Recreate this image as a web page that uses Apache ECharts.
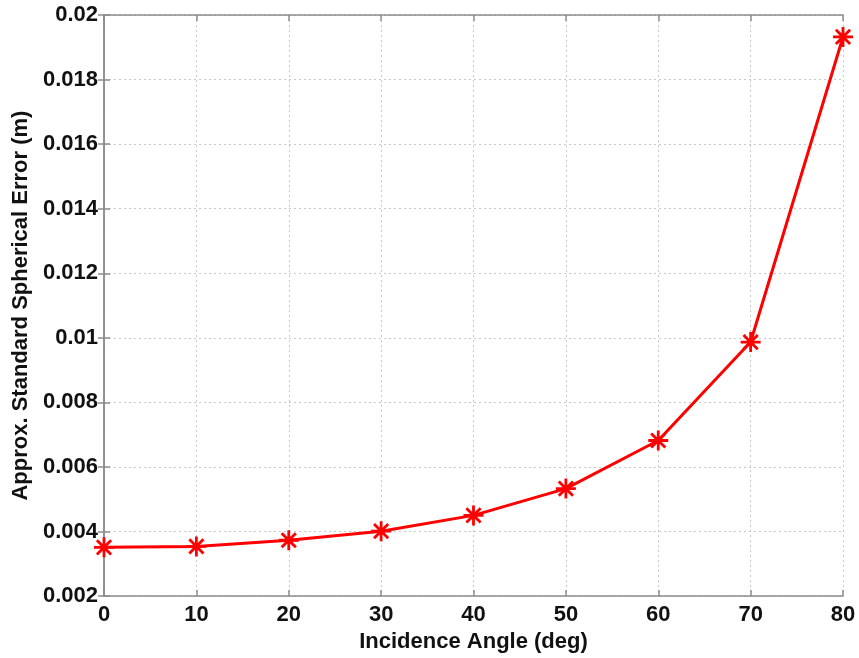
<!DOCTYPE html>
<html><head><meta charset="utf-8">
<script src="https://cdn.jsdelivr.net/npm/echarts@6/dist/echarts.min.js"></script>
<style>html,body{margin:0;padding:0;background:#fff}#c{width:859px;height:658px}</style>
</head><body><div id="c"></div>
<script>
const angles = [0, 10, 20, 30, 40, 50, 60, 70, 80];
const errors = [0.00351, 0.00354, 0.00373, 0.00401, 0.0045, 0.00533, 0.00682, 0.00987, 0.01932];
const xTitle = 'Incidence Angle (deg)';
const yTitle = 'Approx. Standard Spherical Error (m)';

const star = 'path://M-1.4,-10L1.4,-10L1.4,10L-1.4,10Z M-10,-1.4L10,-1.4L10,1.4L-10,1.4Z M-8.1,-6.1L-6.1,-8.1L8.1,6.1L6.1,8.1Z M6.1,-8.1L8.1,-6.1L-6.1,8.1L-8.1,6.1Z';
const font = 'Liberation Sans, Arial, sans-serif';
const axisGray = '#8c8c8c';
const chart = echarts.init(document.getElementById('c'));
const fmt = v => String(parseFloat(v.toFixed(4)));
chart.setOption({
  animation: false,
  grid: {left: 104, right: 16, top: 15, bottom: 60},
  xAxis: [{
    type: 'value', min: 0, max: 80, interval: 10,
    name: xTitle, nameLocation: 'middle', nameGap: 33,
    nameTextStyle: {fontFamily: font, fontWeight: 'bold', fontSize: 22, color: '#111'},
    axisLine: {lineStyle: {color: axisGray, width: 1.5}},
    axisTick: {inside: true, length: 6, lineStyle: {color: axisGray, width: 1.5}},
    axisLabel: {fontFamily: font, fontWeight: 'bold', fontSize: 22, color: '#111', margin: 8},
    splitLine: {show: true, lineStyle: {color: '#c8c8c8', type: [2, 3], width: 1}}
  }, {
    type: 'value', position: 'top', min: 0, max: 80, interval: 10,
    axisLine: {show: true, lineStyle: {color: axisGray, width: 1.5}},
    axisTick: {show: true, inside: true, length: 6, lineStyle: {color: axisGray, width: 1.5}},
    axisLabel: {show: false}, splitLine: {show: false}
  }],
  yAxis: [{
    type: 'value', min: 0.002, max: 0.02, interval: 0.002,
    name: yTitle, nameLocation: 'middle', nameGap: 71,
    nameTextStyle: {fontFamily: font, fontWeight: 'bold', fontSize: 22, color: '#111'},
    axisLine: {show: true, lineStyle: {color: axisGray, width: 1.5}},
    axisTick: {show: true, inside: true, length: 6, lineStyle: {color: axisGray, width: 1.5}},
    axisLabel: {fontFamily: font, fontWeight: 'bold', fontSize: 22, color: '#111', margin: 6, formatter: fmt},
    splitLine: {show: true, lineStyle: {color: '#c8c8c8', type: [2, 3], width: 1}}
  }, {
    type: 'value', position: 'right', min: 0.002, max: 0.02, interval: 0.002,
    axisLine: {show: true, lineStyle: {color: axisGray, width: 1.5}},
    axisTick: {show: true, inside: true, length: 6, lineStyle: {color: axisGray, width: 1.5}},
    axisLabel: {show: false}, splitLine: {show: false}
  }],
  series: [{
    type: 'line',
    data: angles.map((a, i) => [a, errors[i]]),
    symbol: star, symbolSize: 20, showAllSymbol: true,
    itemStyle: {color: '#ff0000'},
    lineStyle: {color: '#ff0000', width: 3},
    z: 5
  }]
});
</script></body></html>
